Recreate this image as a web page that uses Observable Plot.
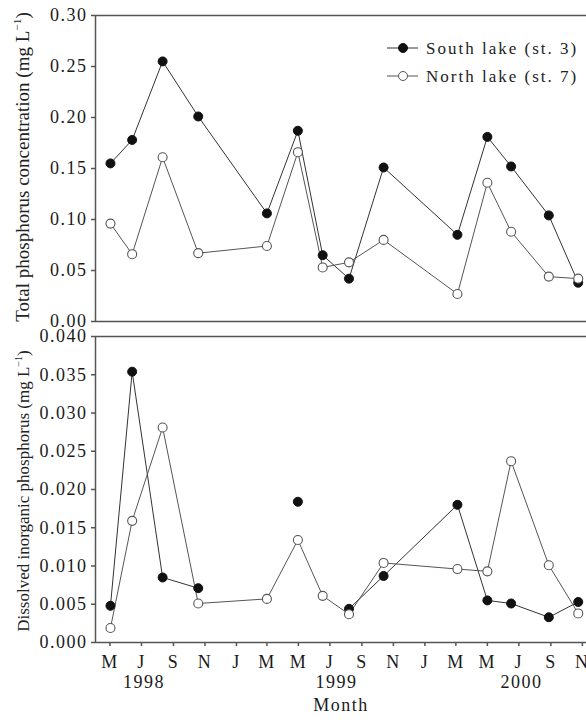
<!DOCTYPE html>
<html><head><meta charset="utf-8">
<script src="https://cdn.jsdelivr.net/npm/d3@7"></script>
<script src="https://cdn.jsdelivr.net/npm/@observablehq/plot@0.6"></script>
<style>
html,body{margin:0;padding:0;background:#fff;overflow:hidden;}
#chart{position:relative;width:586px;height:722px;}
#chart svg{position:absolute;left:0;overflow:visible;}
</style></head><body><div id="chart"></div>
<script>
// ---- data ----
const sampleDates = ["1998-05-02","1998-06-13","1998-08-11","1998-10-19","1999-03-01","1999-04-30","1999-06-17","1999-08-07","1999-10-13","2000-03-04","2000-05-01","2000-06-16","2000-08-28","2000-10-24"];
const tpSouth = [0.155, 0.178, 0.255, 0.201, 0.106, 0.187, 0.065, 0.042, 0.151, 0.085, 0.181, 0.152, 0.104, 0.038];
const tpNorth = [0.096, 0.066, 0.161, 0.067, 0.074, 0.166, 0.053, 0.058, 0.080, 0.027, 0.136, 0.088, 0.044, 0.042];
const dipSouth = [0.0048, 0.0354, 0.0085, 0.0071, null, 0.0184, null, 0.0044, 0.0087, 0.0180, 0.0055, 0.0051, 0.0033, 0.0053];
const dipNorth = [0.0019, 0.0159, 0.0281, 0.0051, 0.0057, 0.0134, 0.0061, 0.0037, 0.0104, 0.0096, 0.0093, 0.0237, 0.0101, 0.0038];
const seriesNames = ["South lake (st. 3)", "North lake (st. 7)"];
const monthTickDates = ["1998-05-01","1998-07-01","1998-09-01","1998-11-01","1999-01-01","1999-03-01","1999-05-01","1999-07-01","1999-09-01","1999-11-01","2000-01-01","2000-03-01","2000-05-01","2000-07-01","2000-09-01","2000-11-01"];
const monthTickLabels = ["M","J","S","N","J","M","M","J","S","N","J","M","M","J","S","N"];
const yearLabels = ["1998","1999","2000"];
const yearLabelDates = ["1998-07-06","1999-07-14","2000-07-06"];
const tpTicks = [0, 0.05, 0.10, 0.15, 0.20, 0.25, 0.30];
const dipTicks = [0, 0.005, 0.010, 0.015, 0.020, 0.025, 0.030, 0.035, 0.040];
const xDomainDates = ["1998-04-03","2000-11-09"];
const tpTitle = "Total phosphorus concentration (mg L";
const dipTitle = "Dissolved inorganic phosphorus (mg L";
const xTitle = "Month";

// ---- layout ----
const W = 586, ML = 95;
const font = "'Liberation Serif', 'Times New Roman', serif";
const xDomain = xDomainDates.map(d => new Date(d));
const tpData = sampleDates.map((d, i) => ({date: new Date(d), south: tpSouth[i], north: tpNorth[i]}));
const dipData = sampleDates.map((d, i) => ({date: new Date(d), south: dipSouth[i] ?? undefined, north: dipNorth[i]}));
const labelMap = new Map(monthTickDates.map((d, i) => [+new Date(d), monthTickLabels[i]]));
const yearRows = yearLabels.map((y, i) => ({year: y, date: new Date(yearLabelDates[i])}));

const frameStroke = "#555";
function seriesMarks(data) {
  return [
    Plot.line(data, {x: "date", y: "south", stroke: "#333", strokeWidth: 1}),
    Plot.line(data, {x: "date", y: "north", stroke: "#555", strokeWidth: 1}),
    Plot.dot(data, {x: "date", y: "south", r: 4.5, fill: "#111", stroke: "#111", strokeWidth: 1}),
    Plot.dot(data, {x: "date", y: "north", r: 4.5, fill: "white", stroke: "#555", strokeWidth: 1.1})
  ];
}
const style = {fontFamily: font, fontSize: "18px", color: "#1a1a1a", background: "transparent", letterSpacing: "1.5px", overflow: "visible"};

const topChart = Plot.plot({
  width: W, height: 330, marginTop: 15, marginBottom: 9, marginLeft: ML, marginRight: 0,
  style,
  x: {type: "utc", domain: xDomain, axis: null},
  y: {domain: [0, 0.30], axis: null},
  marks: [
    Plot.ruleY([0.30], {stroke: frameStroke, strokeWidth: 1.5}),
    Plot.ruleY([0], {stroke: frameStroke, strokeWidth: 1.5}),
    Plot.ruleX([xDomain[0]], {stroke: frameStroke, strokeWidth: 1.5}),
    Plot.axisY({ticks: tpTicks, tickFormat: d => d.toFixed(2), tickSize: 4, tickPadding: 4, stroke: frameStroke, strokeWidth: 1.5}),
    ...seriesMarks(tpData)
  ]
});
topChart.style.top = "0px";

const bottomChart = Plot.plot({
  width: W, height: 392, marginTop: 6, marginBottom: 80, marginLeft: ML, marginRight: 0,
  style,
  x: {type: "utc", domain: xDomain, axis: null},
  y: {domain: [0, 0.040], axis: null},
  marks: [
    Plot.ruleY([0.040], {stroke: frameStroke, strokeWidth: 1.5}),
    Plot.ruleY([0], {stroke: frameStroke, strokeWidth: 1.5}),
    Plot.ruleX([xDomain[0]], {stroke: frameStroke, strokeWidth: 1.5}),
    Plot.axisY({ticks: dipTicks, tickFormat: d => d.toFixed(3), tickSize: 4, tickPadding: 4, stroke: frameStroke, strokeWidth: 1.5}),
    Plot.axisX({ticks: monthTickDates.map(d => new Date(d)), tickFormat: d => labelMap.get(+d), tickSize: 4, tickPadding: 9, stroke: frameStroke, strokeWidth: 1.5}),
    Plot.text(yearRows, {x: "date", text: "year", frameAnchor: "bottom", dy: 45, fontSize: 18}),
    Plot.text([xTitle], {frameAnchor: "bottom", dy: 68, fontSize: 18}),
    ...seriesMarks(dipData)
  ]
});
bottomChart.style.top = "330px";

const chart = document.getElementById("chart");
chart.append(topChart, bottomChart);

function addYTitle(svg, text, cy, size) {
  const t = d3.select(svg).append("text")
    .attr("transform", `translate(29,${cy}) rotate(-90)`)
    .attr("text-anchor", "middle")
    .style("font-size", size + "px")
    .style("letter-spacing", "0px")
    .attr("fill", "#222");
  t.append("tspan").text(text);
  t.append("tspan").text("\u22121").attr("font-size", (size * 0.6) + "px").attr("dy", -size * 0.4);
  t.append("tspan").text(")").attr("dy", size * 0.4);
}
addYTitle(topChart, tpTitle, 15 + 152, 19);
addYTitle(bottomChart, dipTitle, 6 + 155, 17);

// legend
const lg = d3.select(topChart).append("g");
seriesNames.forEach((name, i) => {
  const y = 48 + i * 28;
  const g = lg.append("g");
  g.append("line").attr("x1", 387).attr("x2", 418).attr("y1", y).attr("y2", y).attr("stroke", i ? "#555" : "#333").attr("stroke-width", 1);
  g.append("circle").attr("cx", 403).attr("cy", y).attr("r", 4.5)
    .attr("fill", i ? "white" : "#111").attr("stroke", i ? "#555" : "#111");
  g.append("text").attr("x", 426).attr("y", y).attr("dy", "0.35em")
    .attr("text-anchor", "start").style("font-size", "17px").style("letter-spacing", "2px")
    .attr("fill", "#222").text(name);
});
</script></body></html>
